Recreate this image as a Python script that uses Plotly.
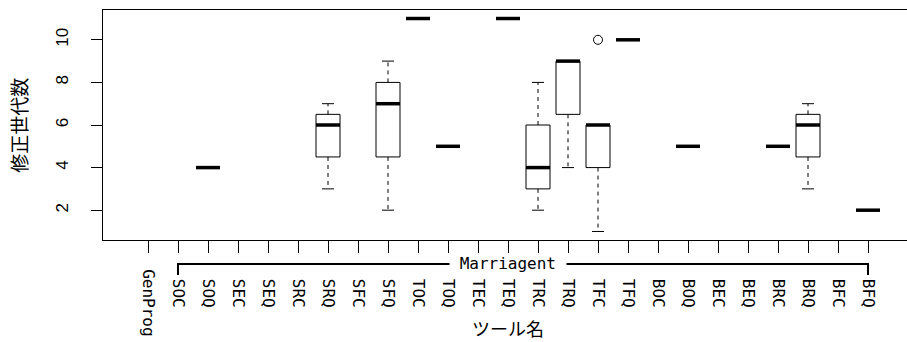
import plotly.graph_objects as go

# ---------------- data ----------------
categories = ["GenProg", "SOC", "SOQ", "SEC", "SEQ", "SRC", "SRQ", "SFC", "SFQ",
              "TOC", "TOQ", "TEC", "TEQ", "TRC", "TRQ", "TFC", "TFQ",
              "BOC", "BOQ", "BEC", "BEQ", "BRC", "BRQ", "BFC", "BFQ"]
# five-number summaries per tool (None = no box drawn)
lower_whisker = [None, None, 4, None, None, None, 3, None, 2, 11, 5, None, 11, 2, 4, 1, 10,
                 None, 5, None, None, 5, 3, None, 2]
q1 = [None, None, 4, None, None, None, 4.5, None, 4.5, 11, 5, None, 11, 3, 6.5, 4, 10,
      None, 5, None, None, 5, 4.5, None, 2]
median = [None, None, 4, None, None, None, 6, None, 7, 11, 5, None, 11, 4, 9, 6, 10,
          None, 5, None, None, 5, 6, None, 2]
q3 = [None, None, 4, None, None, None, 6.5, None, 8, 11, 5, None, 11, 6, 9, 6, 10,
      None, 5, None, None, 5, 6.5, None, 2]
upper_whisker = [None, None, 4, None, None, None, 7, None, 9, 11, 5, None, 11, 8, 9, 6, 10,
                 None, 5, None, None, 5, 7, None, 2]
outlier_tools = ["TFC"]
outlier_values = [10]
ytick_values = [2, 4, 6, 8, 10]
tick_labels = ["GenProg"] + ["\u00a0" + c for c in categories[1:]]
bracket_label = "Marriagent"
bracket_from, bracket_to = "SOC", "BFQ"
x_title = "ツール名"
y_title = "修正世代数"

# ---------------- build box glyphs ----------------
HW, SW = 0.4, 0.2
bx, by, mx, my, wx, wy, sx, sy = [], [], [], [], [], [], [], []
for i, name in enumerate(categories):
    if q1[i] is None:
        continue
    bx += [i - HW, i + HW, i + HW, i - HW, i - HW, None]
    by += [q1[i], q1[i], q3[i], q3[i], q1[i], None]
    mx += [i - HW, i + HW, None]
    my += [median[i], median[i], None]
    wx += [i, i, None, i, i, None]
    wy += [q1[i], lower_whisker[i], None, q3[i], upper_whisker[i], None]
    sx += [i - SW, i + SW, None, i - SW, i + SW, None]
    sy += [lower_whisker[i], lower_whisker[i], None, upper_whisker[i], upper_whisker[i], None]

fig = go.Figure()
fig.add_trace(go.Scatter(x=wx, y=wy, mode="lines", line=dict(color="black", width=1, dash="4px,4px"),
                         hoverinfo="skip", showlegend=False))
fig.add_trace(go.Scatter(x=sx, y=sy, mode="lines", line=dict(color="black", width=1),
                         hoverinfo="skip", showlegend=False))
fig.add_trace(go.Scatter(x=bx, y=by, mode="lines", line=dict(color="black", width=1),
                         hoverinfo="skip", showlegend=False))
fig.add_trace(go.Scatter(x=mx, y=my, mode="lines", line=dict(color="black", width=3.5),
                         hoverinfo="skip", showlegend=False))
fig.add_trace(go.Scatter(x=[categories.index(t) for t in outlier_tools], y=outlier_values,
                         mode="markers", marker=dict(symbol="circle-open", size=9, color="black",
                                                     line=dict(width=1)),
                         showlegend=False))

i0, i1 = categories.index(bracket_from), categories.index(bracket_to)
y_line, y_drop = -0.104, -0.152
fig.add_shape(type="path", xref="x", yref="paper",
              path=f"M {i0},{y_drop} L {i0},{y_line} L {i1},{y_line} L {i1},{y_drop}",
              line=dict(color="black", width=2))

mid = (len(categories) - 1) / 2
fig.add_annotation(x=mid, xref="x", y=y_line, yref="paper", text="\u00a0" + bracket_label + "\u00a0",
                   showarrow=False, bgcolor="white", borderpad=0, xanchor="center", yanchor="middle",
                   font=dict(family="DejaVu Sans Mono", size=16, color="black"))
fig.add_annotation(x=mid, xref="x", y=-0.383, yref="paper", text=x_title, showarrow=False,
                   xanchor="center", yanchor="middle",
                   font=dict(family="Noto Sans CJK JP", size=18, color="black"))
fig.add_annotation(x=-0.106, xref="paper", y=0.5, yref="paper", text=y_title, showarrow=False,
                   textangle=-90, xanchor="center", yanchor="middle",
                   font=dict(family="Noto Sans CJK JP", size=19, color="black"))

fig.update_layout(
    width=907, height=342,
    margin=dict(l=103, r=0, t=10, b=102, autoexpand=False),
    plot_bgcolor="white", paper_bgcolor="white",
    xaxis=dict(range=[-1.5, 25.3], tickmode="array", tickvals=list(range(len(categories))),
               ticktext=tick_labels, tickangle=90, ticks="outside", ticklen=12, tickcolor="black",
               showline=True, mirror=True, linecolor="black", linewidth=1, showgrid=False,
               zeroline=False, ticklabelstandoff=13, automargin=False,
               tickfont=dict(family="DejaVu Sans Mono", size=16, color="black")),
    yaxis=dict(range=[0.6, 11.4], tickmode="array", tickvals=ytick_values, tickangle=-90,
               ticks="outside", ticklen=11, tickcolor="black", showline=True, linecolor="black",
               linewidth=1, showgrid=False, zeroline=False, ticklabelstandoff=16, automargin=False,
               tickfont=dict(family="Liberation Sans", size=17, color="black")),
)
fig.write_html("out.html", config={"displayModeBar": False},
               post_script="document.body.style.margin='0px';")
